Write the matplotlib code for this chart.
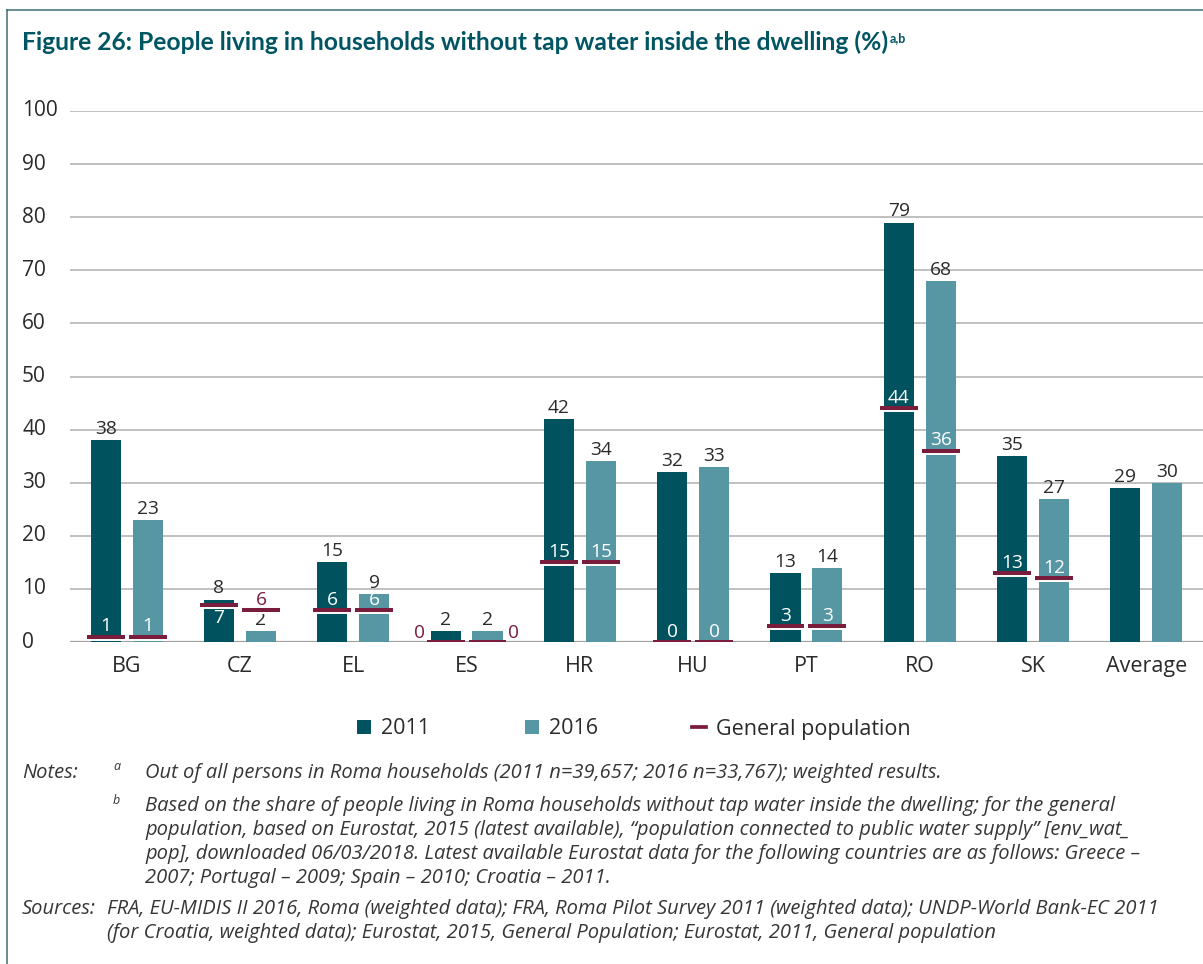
import matplotlib
matplotlib.use("Agg")
import matplotlib.pyplot as plt
import matplotlib.transforms as mtransforms
from matplotlib.patches import Patch
from matplotlib.lines import Line2D
import numpy as np

# ---- data -------------------------------------------------------------
countries = ["BG", "CZ", "EL", "ES", "HR", "HU", "PT", "RO", "SK", "Average"]
roma_2011 = [38, 8, 15, 2, 42, 32, 13, 79, 35, 29]
roma_2016 = [23, 2, 9, 2, 34, 33, 14, 68, 27, 30]
genpop_2011 = [1, 7, 6, 0, 15, 0, 3, 44, 13, None]
genpop_2016 = [1, 6, 6, 0, 15, 0, 3, 36, 12, None]
y_ticks = [0, 10, 20, 30, 40, 50, 60, 70, 80, 90, 100]

title = "Figure 26: People living in households without tap water inside the dwelling (%)"
notes_a = "Out of all persons in Roma households (2011 n=39,657; 2016 n=33,767); weighted results."
notes_b = [
    "Based on the share of people living in Roma households without tap water inside the dwelling; for the general",
    "population, based on Eurostat, 2015 (latest available), \u201cpopulation connected to public water supply\u201d [env_wat_",
    "pop], downloaded 06/03/2018. Latest available Eurostat data for the following countries are as follows: Greece \u2013",
    "2007; Portugal \u2013 2009; Spain \u2013 2010; Croatia \u2013 2011.",
]
sources = [
    "FRA, EU-MIDIS II 2016, Roma (weighted data); FRA, Roma Pilot Survey 2011 (weighted data); UNDP-World Bank-EC 2011",
    "(for Croatia, weighted data); Eurostat, 2015, General Population; Eurostat, 2011, General population",
]

# ---- style ------------------------------------------------------------
C2011 = "#00535e"
C2016 = "#5797a3"
CGEN = "#7a1c3c"
CTITLE = "#005562"
CTEXT = "#2a2a2a"
GRID = "#b5b5b5"

plt.rcParams["font.family"] = ["Open Sans", "DejaVu Sans"]

W, H = 1203, 964
fig = plt.figure(figsize=(W / 100, H / 100), dpi=100)


def fx(px):
    return px / W


def fy(py):
    return 1 - py / H


ax = fig.add_axes([fx(70), fy(642), fx(1203) - fx(70), fy(111) - fy(642)])
ax.set_xlim(-0.5, len(countries) - 0.5)
ax.set_ylim(0, 100)
for s in ax.spines.values():
    s.set_visible(False)

ax.set_yticks(y_ticks)
ax.set_yticklabels([str(t) for t in y_ticks], ha="left", va="center",
                   fontsize=15, color=CTEXT)
ax.tick_params(axis="y", length=0, pad=34.5)
ax.yaxis.grid(True, color=GRID, linewidth=1.2, zorder=0)
ax.set_axisbelow(True)
ax.axhline(0, color="#a0a0a0", linewidth=1.6, zorder=1)

x = np.arange(len(countries))
ax.set_xticks(x)
ax.set_xticklabels(countries, fontsize=15.5, color=CTEXT)
ax.tick_params(axis="x", length=0, pad=10)

off = 0.185
bw = 0.265
mw = 0.335
ax.bar(x - off, roma_2011, width=bw, color=C2011, zorder=2)
ax.bar(x + off, roma_2016, width=bw, color=C2016, zorder=2)

VAL_FS = 13.8
# value labels on top of bars
for xi, v in zip(x - off, roma_2011):
    ax.annotate(str(v), (xi, v), xytext=(0, 1.5), textcoords="offset points",
                ha="center", va="bottom", fontsize=VAL_FS, color=CTEXT)
for xi, v in zip(x + off, roma_2016):
    ax.annotate(str(v), (xi, v), xytext=(0, 1.5), textcoords="offset points",
                ha="center", va="bottom", fontsize=VAL_FS, color=CTEXT)

# general population markers
down = mtransforms.ScaledTranslation(0, -2.2 / 72, fig.dpi_scale_trans)
placement = {("CZ", 2011): "below", ("CZ", 2016): "above_red",
             ("ES", 2011): "left_red", ("ES", 2016): "right_red"}

for year, xs, gvals in ((2011, x - off, genpop_2011), (2016, x + off, genpop_2016)):
    for c, xi, g in zip(countries, xs, gvals):
        if g is None:
            continue
        ax.plot([xi - mw / 2, xi + mw / 2], [g, g], color="white", lw=1.4,
                solid_capstyle="butt", transform=ax.transData + down, zorder=3)
        ax.plot([xi - mw / 2, xi + mw / 2], [g, g], color=CGEN, lw=2.9,
                solid_capstyle="butt", zorder=4)
        mode = placement.get((c, year), "in")
        if mode == "in":
            ax.annotate(str(g), (xi, g), xytext=(0, 1), textcoords="offset points",
                        ha="center", va="bottom", fontsize=VAL_FS, color="white", zorder=5)
        elif mode == "below":
            ax.annotate(str(g), (xi, g), xytext=(0, -3), textcoords="offset points",
                        ha="center", va="top", fontsize=VAL_FS, color="white", zorder=5)
        elif mode == "above_red":
            ax.annotate(str(g), (xi, g), xytext=(0, 1), textcoords="offset points",
                        ha="center", va="bottom", fontsize=VAL_FS, color=CGEN, zorder=5)
        elif mode == "left_red":
            ax.annotate(str(g), (xi - mw / 2, g), xytext=(-1, 0), textcoords="offset points",
                        ha="right", va="bottom", fontsize=VAL_FS, color=CGEN, zorder=5)
        elif mode == "right_red":
            ax.annotate(str(g), (xi + mw / 2, g), xytext=(1, 0), textcoords="offset points",
                        ha="left", va="bottom", fontsize=VAL_FS, color=CGEN, zorder=5)

# legend
handles = [
    Patch(facecolor=C2011, edgecolor="none", label="2011"),
    Patch(facecolor=C2016, edgecolor="none", label="2016"),
    Line2D([0], [0], color=CGEN, lw=2.7, label="General population"),
]
leg = fig.legend(handles=handles, loc="center", bbox_to_anchor=(fx(634), fy(729)),
                 ncol=3, frameon=False, fontsize=15.5, handlelength=0.65,
                 handleheight=0.65, handletextpad=0.45, columnspacing=4.4)
for t in leg.get_texts():
    t.set_color(CTEXT)

# title with superscript note markers
tt = fig.text(fx(22), fy(50), title, fontsize=17.7, fontweight="bold",
              family=["Lato", "DejaVu Sans"], color=CTITLE, ha="left", va="baseline")
fig.add_artist(plt.Annotation("a,b", xy=(1, 1), xycoords=tt, xytext=(1.5, -1.5),
                              textcoords="offset points", ha="left", va="top",
                              fontsize=9, fontweight="bold",
                              family=["Lato", "DejaVu Sans"], color=CTITLE))

# notes and sources
NOTE_FS = 14.5
NCOL = "#363636"
note_kw = dict(fontsize=NOTE_FS, style="italic", color=NCOL, ha="left", va="center")
fig.text(fx(22), fy(773), "Notes:", **note_kw)
fig.text(fx(113), fy(767), "a", fontsize=9, style="italic", color=NCOL, ha="left", va="center")
fig.text(fx(145), fy(773), notes_a, **note_kw)
fig.text(fx(113), fy(800), "b", fontsize=9, style="italic", color=NCOL, ha="left", va="center")
for i, line in enumerate(notes_b):
    fig.text(fx(145), fy(806 + 24 * i), line, **note_kw)
fig.text(fx(22), fy(909), "Sources:", **note_kw)
for i, line in enumerate(sources):
    fig.text(fx(107), fy(909 + 24 * i), line, **note_kw)

# frame around the figure
fig.add_artist(Line2D([fx(7), fx(7)], [0, fy(10)], color="#3d6f76", lw=1.1))
fig.add_artist(Line2D([fx(7), 1], [fy(10), fy(10)], color="#3d6f76", lw=1.1))

fig.savefig("out.png", dpi=100)
